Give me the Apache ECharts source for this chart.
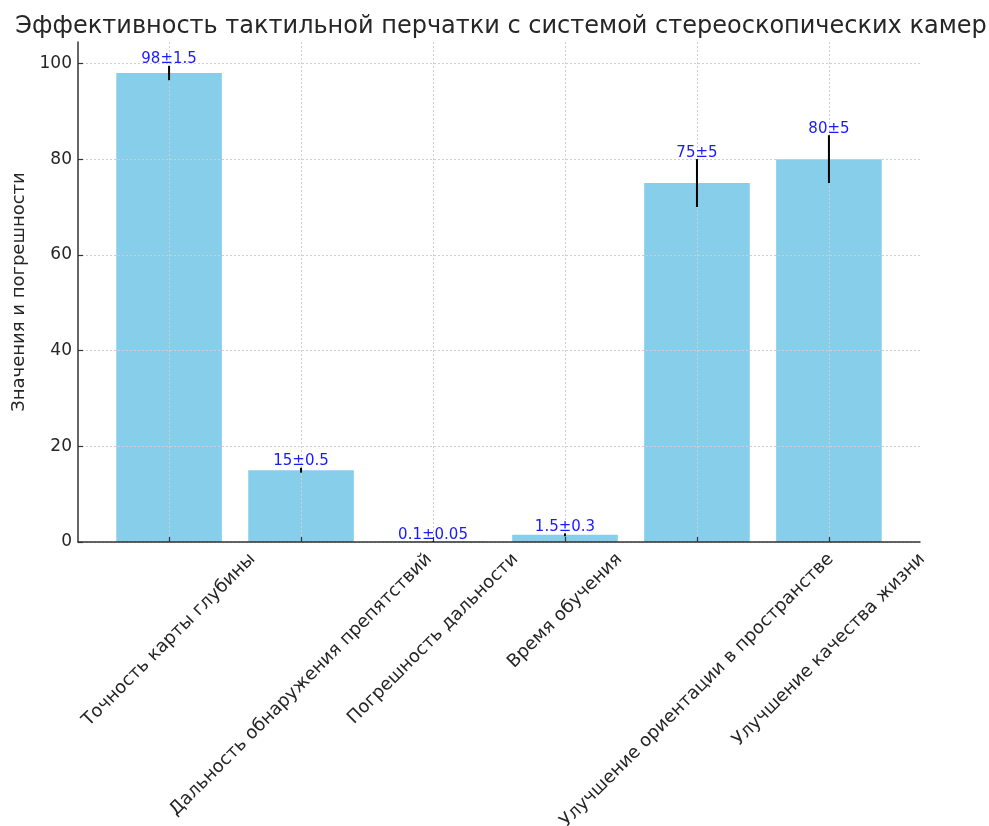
<!DOCTYPE html>
<html><head><meta charset="utf-8">
<script src="https://cdn.jsdelivr.net/npm/echarts/dist/echarts.min.js"></script>
<style>html,body{margin:0;padding:0;background:#fff}#c{width:989px;height:826px}</style>
</head><body><div id="c"></div>
<script>
const categories = ['Точность карты глубины','Дальность обнаружения препятствий','Погрешность дальности','Время обучения','Улучшение ориентации в пространстве','Улучшение качества жизни'];
const values = [98, 15, 0.1, 1.5, 75, 80];
const errors = [1.5, 0.5, 0.05, 0.3, 5, 5];
const valueLabels = ['98±1.5','15±0.5','0.1±0.05','1.5±0.3','75±5','80±5'];
const yTicks = [0, 20, 40, 60, 80, 100];
const xTicks = [0, 1, 2, 3, 4, 5];

const FONT = '"DejaVu Sans", sans-serif';
const XLAB_SIZE = 18;
const cv = document.createElement('canvas').getContext('2d');
cv.font = XLAB_SIZE + 'px ' + FONT;
const textW = categories.map(t => cv.measureText(t).width);

const chart = echarts.init(document.getElementById('c'));
const gridLine = {show: true, lineStyle: {color: '#cfcfcf', type: [2, 2], width: 1}};
chart.setOption({
  animation: false,
  title: {
    text: 'Эффективность тактильной перчатки с системой стереоскопических камер',
    left: 496, textAlign: 'center', top: 10,
    textStyle: {fontFamily: FONT, fontSize: 24, fontWeight: 'normal', color: '#262626'}
  },
  grid: {left: 78, right: 69, top: 42, bottom: 284, containLabel: false},
  xAxis: {
    type: 'value', min: -0.69, max: 5.69, z: 3,
    axisLine: {show: true, onZero: false, lineStyle: {color: '#333', width: 1.5}},
    axisTick: {show: true, inside: true, length: 5, customValues: xTicks, lineStyle: {color: '#333', width: 1.2}},
    axisLabel: {show: false, customValues: xTicks},
    splitLine: gridLine
  },
  yAxis: {
    type: 'value', min: 0, max: 104.475, z: 3,
    name: 'Значения и погрешности', nameLocation: 'middle', nameGap: 49, nameRotate: 90,
    nameTextStyle: {fontFamily: FONT, fontSize: 18, color: '#262626'},
    axisLine: {show: true, onZero: false, lineStyle: {color: '#333', width: 1.5}},
    axisTick: {show: true, inside: true, length: 5, customValues: yTicks, lineStyle: {color: '#333', width: 1.2}},
    axisLabel: {customValues: yTicks, margin: 6, fontFamily: FONT, fontSize: 17, color: '#262626'},
    splitLine: gridLine
  },
  series: [
    {
      type: 'bar', barWidth: 105.6, z: 2,
      itemStyle: {color: '#87CEEB'},
      data: values.map((v, i) => [i, v])
    },
    {
      type: 'custom', z: 5, clip: false,
      data: values.map((v, i) => [i, v, errors[i]]),
      renderItem(params, api) {
        const i = api.value(0), v = api.value(1), e = api.value(2);
        const lo = api.coord([i, v - e]), hi = api.coord([i, v + e]);
        return {type: 'group', children: [
          {type: 'line', shape: {x1: lo[0], y1: lo[1], x2: hi[0], y2: hi[1]}, style: {stroke: '#000', lineWidth: 2}},
          {type: 'text', x: hi[0], y: hi[1] + 1, style: {text: valueLabels[params.dataIndex], fill: '#1a1aff', font: '15px ' + FONT, align: 'center', verticalAlign: 'bottom'}}
        ]};
      }
    },
    {
      type: 'custom', z: 5, clip: false, silent: true,
      data: xTicks.map(i => [i, 0]),
      renderItem(params, api) {
        const i = api.value(0);
        const p = api.coord([i, 0]);
        const w = textW[params.dataIndex], h = 21;
        const y0 = p[1] + 7;
        return {type: 'text', x: p[0] + 0.3536 * w, y: y0 + 0.3536 * h, rotation: Math.PI / 4,
          style: {text: categories[params.dataIndex], font: XLAB_SIZE + 'px ' + FONT, fill: '#262626', align: 'right', verticalAlign: 'middle'}};
      }
    }
  ]
});
</script></body></html>
